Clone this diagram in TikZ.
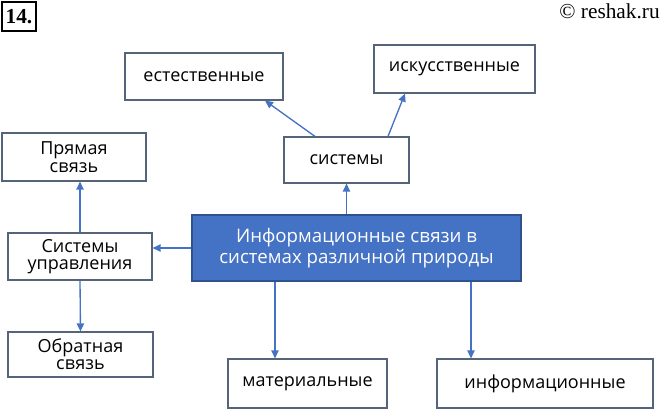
\documentclass[tikz,border=0pt]{standalone}
\usepackage{fontspec}
\setmainfont{Open Sans}
\newfontfamily\headfont{Liberation Serif}
\definecolor{linkBlue}{HTML}{4472C4}
\definecolor{boxGrey}{HTML}{56647A}
\definecolor{mainBorder}{HTML}{2F528F}
\usetikzlibrary{arrows.meta, calc}

\begin{document}
\begin{tikzpicture}[x=0.75pt, y=-0.75pt]
                \tikzset{
                    sysbox/.style={rectangle, draw=boxGrey, fill=white, line width=0.9pt,
                        align=center, inner sep=0pt, font=\fontsize{13.5}{13}\selectfont},
                    mainbox/.style={sysbox, draw=mainBorder, fill=linkBlue, text=white,
                        font=\fontsize{14}{15.5}\selectfont},
                    link/.style={draw=linkBlue, line width=1pt, -{Triangle[length=6pt,width=5.5pt]}},
                }
                \useasboundingbox (0,0) rectangle (662,412);

                % Header
                \node[draw, line width=1pt, inner sep=0pt, minimum width=25.5pt, minimum height=21.75pt,
                    font=\headfont\fontsize{16}{16}\selectfont\bfseries] (num) at (19,16.5) {14.};
                \node[anchor=north east, inner sep=0pt, font=\headfont\fontsize{16}{16}\selectfont] (copy) at (660,3) {\textcopyright\ reshak.ru};

                % Central box
                \node[mainbox, minimum width=246.75pt, minimum height=49.5pt] (info) at (356.5,248)
                    {Информационные связи в\\системах различной природы};

                % Systems branch
                \node[sysbox, minimum width=93.75pt, minimum height=34.5pt] (sys) at (346.5,160) {системы};
                \node[sysbox, minimum width=118.5pt, minimum height=35.25pt] (nat) at (204,76.5) {естественные};
                \node[sysbox, minimum width=120.75pt, minimum height=36pt] (art) at (454.5,69) {искусственные};

                % Control branch
                \node[sysbox, minimum width=108pt, minimum height=35.25pt] (ctrl) at (80,256.5) {Системы\\управления};
                \node[sysbox, minimum width=108pt, minimum height=36pt] (direct) at (74,157) {Прямая\\связь};
                \node[sysbox, minimum width=108.75pt, minimum height=33.75pt] (feedback) at (80.5,354.5) {Обратная\\связь};

                % Kinds of links
                \node[sysbox, minimum width=119.25pt, minimum height=36.75pt] (mat) at (307.5,383.5) {материальные};
                \node[sysbox, minimum width=162pt, minimum height=36.75pt] (inf) at (545,383.5) {информационные};

                % Connectors
                \draw[link] (info.north -| sys.south) -- (sys.south);
                \draw[link] ($(sys.north)+(-31.5,0)$) -- ($(nat.south)+(61,0)$);
                \draw[link] ($(sys.north)+(41.5,0)$) -- ($(art.south)+(-49.5,0)$);
                \draw[link] (info.west) -- (info.west -| ctrl.east);
                \draw[link] (ctrl.north) -- (ctrl.north |- direct.south);
                \draw[link] (ctrl.south) -- (feedback.north);
                \draw[link] ($(info.south)+(-81.5,0)$) -- ($(mat.north)+(-32.5,0)$);
                \draw[link] ($(info.south)+(114.5,0)$) -- ($(inf.north)+(-74,0)$);
            \end{tikzpicture}
\end{document}
